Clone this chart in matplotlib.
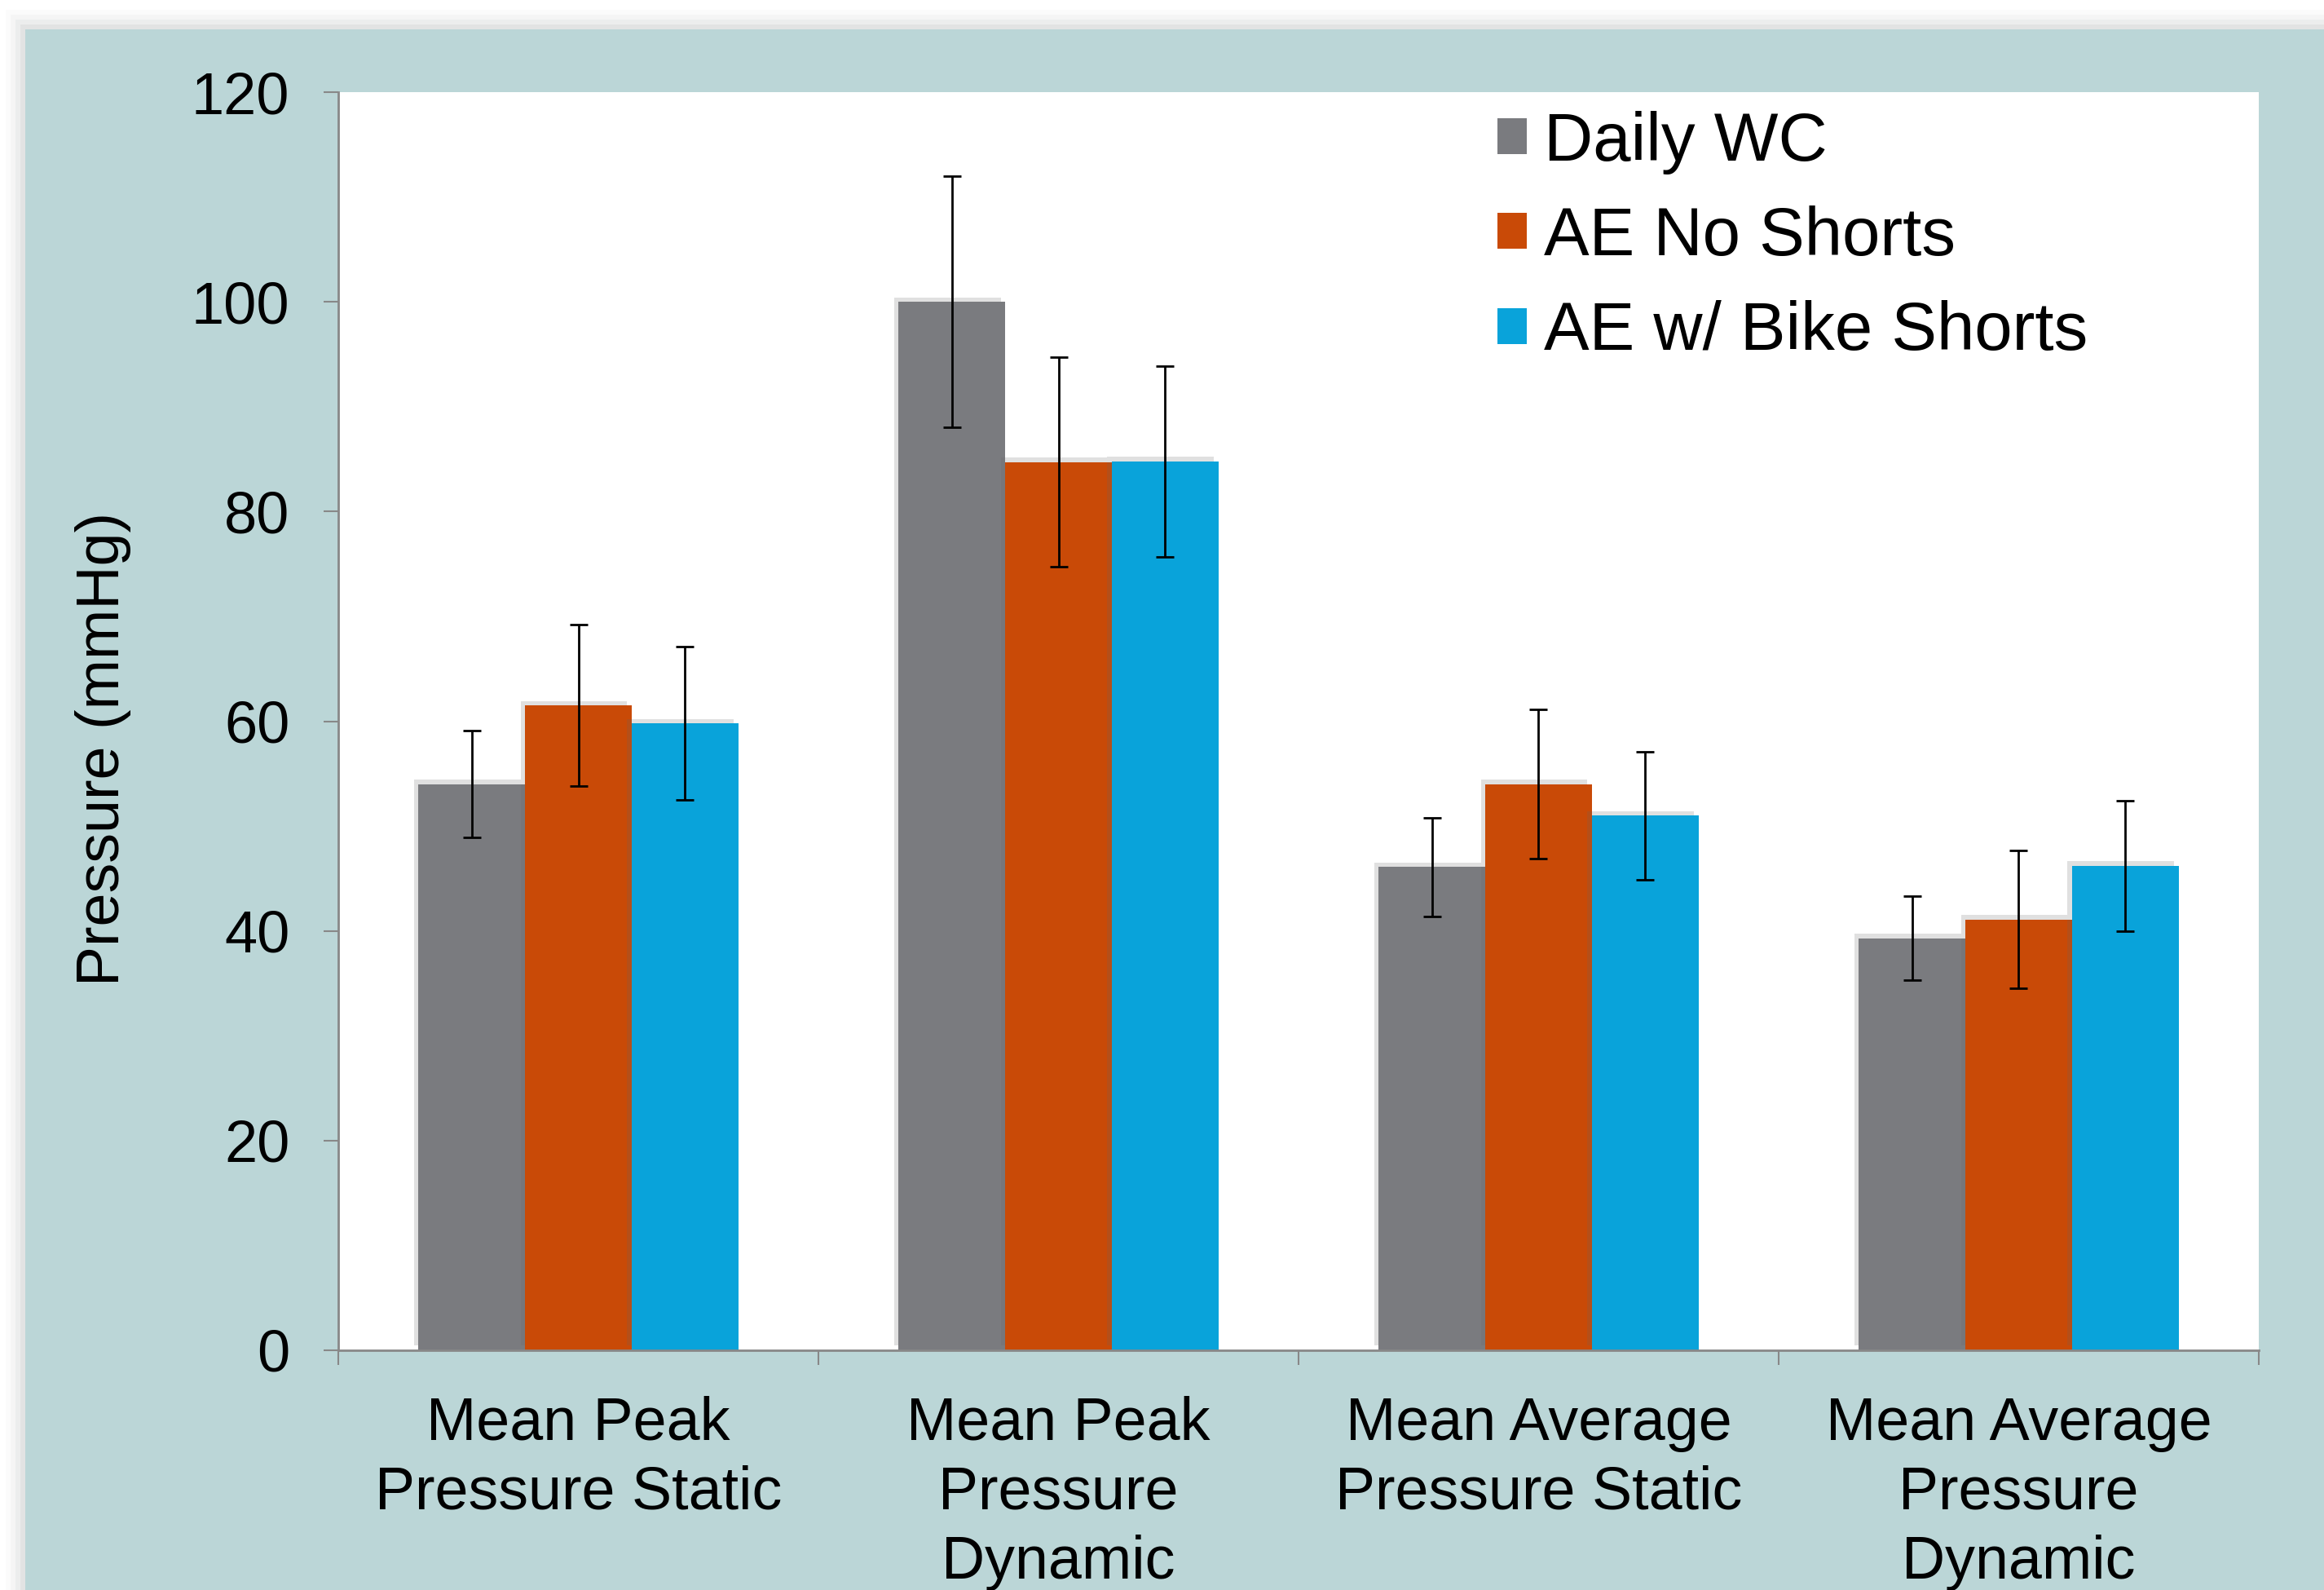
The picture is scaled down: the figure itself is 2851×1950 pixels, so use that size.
import numpy as np
import matplotlib.pyplot as plt
from matplotlib.patches import Rectangle
import matplotlib.patheffects as pe

plt.rcParams['font.family'] = ['Liberation Sans', 'DejaVu Sans']

# categories and series
categories = ['Mean Peak\nPressure Static', 'Mean Peak\nPressure\nDynamic',
              'Mean Average\nPressure Static', 'Mean Average\nPressure\nDynamic']
series = ['Daily WC', 'AE No Shorts', 'AE w/ Bike Shorts']
daily_wc = [54.0, 100.0, 46.1, 39.3]
daily_wc_err = [5.1, 12.0, 4.7, 4.0]
ae_no_shorts = [61.5, 84.7, 54.0, 41.1]
ae_no_shorts_err = [7.7, 10.0, 7.1, 6.6]
ae_bike_shorts = [59.8, 84.8, 51.0, 46.2]
ae_bike_shorts_err = [7.3, 9.1, 6.1, 6.2]
colors = ['#7a7b7f', '#c94a07', '#09a3da']
teal = '#bbd6d7'

fig = plt.figure(figsize=(28.51, 19.5), dpi=100)
fig.patch.set_facecolor('white')
# panel behind the chart, with a soft grey edge
for k, a in enumerate([0.04, 0.06, 0.09, 0.12]):
    off = (4 - k) * 6
    fig.patches.append(Rectangle(((31 - off) / 2851, 0), 1, 1 - (36 - off) / 1950,
                                 transform=fig.transFigure, facecolor='#9aa0a0',
                                 alpha=a, edgecolor='none', zorder=-3))
fig.patches.append(Rectangle((31 / 2851, 0), 1, 1 - 36 / 1950,
                             transform=fig.transFigure, facecolor=teal,
                             edgecolor='none', zorder=-2))

ax = fig.add_axes([415 / 2851, 1 - 1656 / 1950, (2771 - 415) / 2851, (1656 - 113) / 1950])
ax.set_facecolor('white')

x = np.arange(len(categories))
w = 0.222
shadow = [pe.SimplePatchShadow(offset=(-4, 4), shadow_rgbFace='#666666', alpha=0.2), pe.Normal()]
for i, (vals, errs) in enumerate([(daily_wc, daily_wc_err), (ae_no_shorts, ae_no_shorts_err),
                                  (ae_bike_shorts, ae_bike_shorts_err)]):
    pos = x + (i - 1) * w
    bars = ax.bar(pos, vals, w, color=colors[i], label=series[i], zorder=2)
    for b in bars:
        b.set_path_effects(shadow)
    ax.errorbar(pos, vals, yerr=errs, fmt='none', ecolor='black', elinewidth=2,
                capsize=8, capthick=2, zorder=3)

ax.set_xlim(-0.5, 3.5)
ax.set_ylim(0, 120)
ax.set_yticks(range(0, 121, 20))
ax.tick_params(axis='y', labelsize=52, length=13, width=1.5, color='#888888', pad=30)
ax.set_xticks(x)
ax.set_xticklabels(categories, fontsize=53, linespacing=1.3)
ax.set_xticks(np.arange(-0.5, 3.6, 1), minor=True)
ax.tick_params(axis='x', which='major', length=0, pad=40)
ax.tick_params(axis='x', which='minor', length=13, width=1.5, color='#888888')
for s in ['top', 'right']:
    ax.spines[s].set_visible(False)
for s in ['left', 'bottom']:
    ax.spines[s].set_color('#888888')
    ax.spines[s].set_linewidth(2)

fig.text(127 / 2851, 0.529, 'Pressure (mmHg)', rotation=90, ha='center', va='center', fontsize=53)

leg = ax.legend(loc='upper left', bbox_to_anchor=(1795 / 2851, 1 - 94 / 1950),
                bbox_transform=fig.transFigure, frameon=False, fontsize=60,
                handlelength=0.44, handleheight=0.44, handletextpad=0.25,
                labelspacing=0.46, borderpad=0)
for h in leg.legend_handles:
    h.set_path_effects([])

fig.savefig('out.png', dpi=100, facecolor=fig.get_facecolor())
